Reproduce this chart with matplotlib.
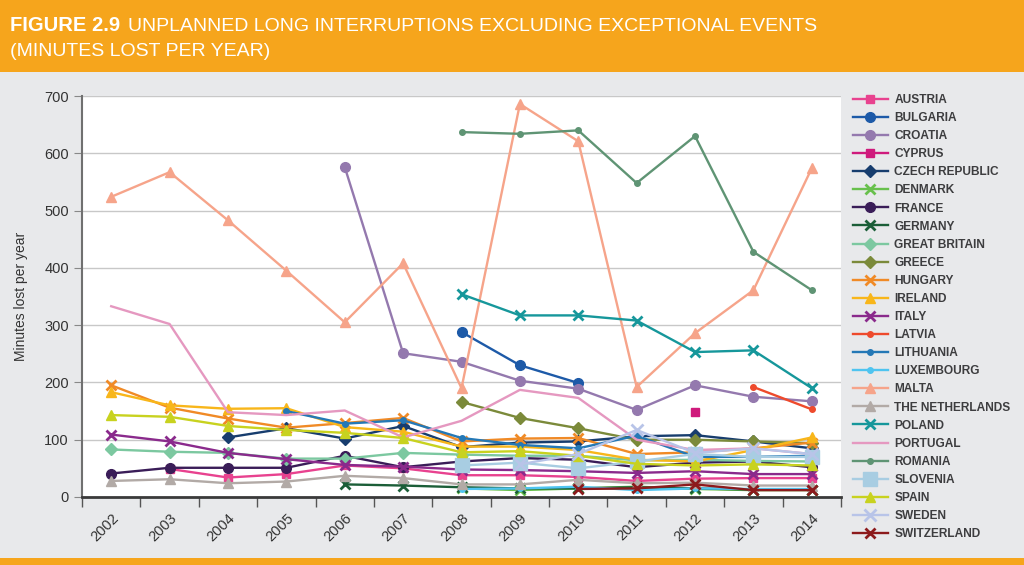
import numpy as np
import matplotlib.pyplot as plt
from matplotlib.patches import Rectangle

nan = np.nan
years = ['2002', '2003', '2004', '2005', '2006', '2007', '2008',
         '2009', '2010', '2011', '2012', '2013', '2014']

austria = [nan, 49, 34, 40, 55, 50, 38, 38, 35, 28, 32, 33, 33]
bulgaria = [nan, nan, nan, nan, nan, nan, 288, 230, 199, nan, nan, nan, nan]
croatia = [nan, nan, nan, nan, 576, 251, 236, 203, 189, 152, 195, 175, 167]
cyprus = [nan, nan, nan, nan, nan, nan, nan, nan, nan, nan, 148, nan, nan]
czech = [nan, nan, 104, 120, 102, 124, 87, 95, 97, 106, 108, 97, 85]
denmark = [nan, nan, nan, nan, nan, nan, 15, 12, 15, 18, 14, 12, 12]
france = [41, 51, 51, 51, 72, 52, 62, 68, 65, 52, 60, 62, 52]
germany = [nan, nan, nan, nan, 22, 20, 17, 15, 15, 17, 15, 13, 13]
great_britain = [83, 79, 77, 67, 67, 77, 74, 72, 72, 64, 65, 63, 62]
greece = [nan, nan, nan, nan, nan, nan, 166, 138, 120, 100, 100, 97, 94]
hungary = [195, 156, 137, 121, 129, 138, 97, 102, 103, 75, 78, 85, 95]
ireland = [183, 160, 154, 155, 122, 114, 88, 88, 82, 65, 62, 82, 104]
italy = [109, 97, 77, 66, 56, 53, 48, 47, 45, 42, 45, 40, 40]
latvia = [nan, nan, nan, nan, nan, nan, nan, nan, nan, nan, nan, 192, 153]
lithuania = [nan, nan, nan, 150, 128, 134, 103, 91, 85, 107, 70, 70, 72]
luxembourg = [nan, nan, nan, nan, nan, nan, 14, 15, 18, 12, 15, 14, 14]
malta = [524, 567, 483, 395, 305, 408, 190, 686, 621, 192, 286, 361, 574]
netherlands = [28, 31, 24, 27, 37, 33, 22, 22, 30, 24, 25, 20, 20]
poland = [nan, nan, nan, nan, nan, nan, 354, 317, 317, 308, 253, 256, 190]
portugal = [333, 302, 148, 143, 151, 104, 133, 187, 173, 100, 82, 85, 75]
romania = [nan, nan, nan, nan, nan, nan, 637, 634, 640, 548, 630, 428, 361]
slovenia = [nan, nan, nan, nan, nan, nan, 55, 60, 50, 62, 75, 70, 70]
spain = [143, 140, 124, 117, 112, 103, 78, 80, 72, 58, 55, 57, 55]
sweden = [nan, nan, nan, nan, nan, nan, nan, 57, 75, 117, 77, 85, 75]
switzerland = [nan, nan, nan, nan, nan, nan, nan, nan, 14, 15, 22, 12, 12]

# name, values, colour, marker, marker size
series = [
    ('AUSTRIA', austria, '#e8428f', 's', 6),
    ('BULGARIA', bulgaria, '#1d5aa8', 'o', 7),
    ('CROATIA', croatia, '#9479ae', 'o', 7),
    ('CYPRUS', cyprus, '#cf1a7c', 's', 6),
    ('CZECH REPUBLIC', czech, '#173d6e', 'D', 6),
    ('DENMARK', denmark, '#68c04c', 'x', 7),
    ('FRANCE', france, '#3a1d58', 'o', 7),
    ('GERMANY', germany, '#1b5e38', 'x', 7),
    ('GREAT BRITAIN', great_britain, '#7cc8a0', 'D', 6),
    ('GREECE', greece, '#7b8a3a', 'D', 6),
    ('HUNGARY', hungary, '#f08a26', 'x', 7),
    ('IRELAND', ireland, '#f8b61a', '^', 7),
    ('ITALY', italy, '#8a2a8c', 'x', 7),
    ('LATVIA', latvia, '#ee4a2c', 'o', 4),
    ('LITHUANIA', lithuania, '#2478b6', 'o', 4),
    ('LUXEMBOURG', luxembourg, '#4fc4f0', 'o', 4),
    ('MALTA', malta, '#f6a48a', '^', 7),
    ('THE NETHERLANDS', netherlands, '#b2aaa6', '^', 7),
    ('POLAND', poland, '#16979b', 'x', 7),
    ('PORTUGAL', portugal, '#e598c0', None, 0),
    ('ROMANIA', romania, '#5f9474', 'o', 4),
    ('SLOVENIA', slovenia, '#a8cde2', 's', 10),
    ('SPAIN', spain, '#c8d21f', '^', 7),
    ('SWEDEN', sweden, '#b8c4e8', 'x', 8),
    ('SWITZERLAND', switzerland, '#8c1a1c', 'x', 7),
]

orange = '#f6a51c'
bg = '#e8e9eb'
font = ['Liberation Sans', 'DejaVu Sans']

fig = plt.figure(figsize=(10.24, 5.65), dpi=100, facecolor=bg)
fig.patches.append(Rectangle((0, 1 - 72 / 565), 1, 72 / 565, transform=fig.transFigure,
                             facecolor=orange, edgecolor='none', zorder=0))
fig.patches.append(Rectangle((0, 0), 1, 7 / 565, transform=fig.transFigure,
                             facecolor=orange, edgecolor='none', zorder=0))

t1 = fig.text(10 / 1024, 1 - 31 / 565, 'FIGURE 2.9', color='white', fontsize=14.5,
              fontweight='bold', family=font, va='baseline')
fig.canvas.draw()
x_end = t1.get_window_extent().x1
fig.text((x_end + 8) / 1024, 1 - 31 / 565,
         'UNPLANNED LONG INTERRUPTIONS EXCLUDING EXCEPTIONAL EVENTS',
         color='white', fontsize=14, family=font, va='baseline')
fig.text(10 / 1024, 1 - 56 / 565, '(MINUTES LOST PER YEAR)', color='white', fontsize=14,
         family=font, va='baseline')

ax = fig.add_axes([82 / 1024, 1 - 497 / 565, 759 / 1024, 401 / 565])
ax.set_facecolor('white')
x = np.arange(len(years))

handles = []
for name, vals, col, mk, ms in series:
    mew = 2 if mk == 'x' else 1
    h, = ax.plot(x, vals, color=col, lw=1.7, marker=mk, ms=ms, mew=mew,
                 label=name, zorder=3)
    handles.append(h)

ax.set_xlim(-0.5, len(years) - 0.5)
ax.set_ylim(0, 700)
ax.set_yticks(range(0, 701, 100))
ax.grid(axis='y', color='#c8c8c8', lw=1)
ax.set_axisbelow(True)
for s in ['top', 'right']:
    ax.spines[s].set_visible(False)
ax.spines['left'].set_color('#707070')
ax.spines['left'].set_linewidth(1.5)
ax.spines['bottom'].set_color('#3a3a3a')
ax.spines['bottom'].set_linewidth(2)

ax.set_xticks(x)
ax.set_xticklabels(years, rotation=45, ha='right', va='top', rotation_mode='anchor',
                   fontsize=10.5, color='#333333', family=font)
ax.tick_params(axis='x', which='major', length=0, pad=10)
ax.set_xticks(np.arange(-0.5, len(years)), minor=True)
ax.tick_params(axis='x', which='minor', length=7, width=1, color='#555555')
ax.tick_params(axis='y', length=6, color='#888888', labelsize=10.5, labelcolor='#333333')
for lab in ax.get_yticklabels():
    lab.set_family(font)
ax.set_ylabel('Minutes lost per year', fontsize=10, color='#333333', labelpad=12,
              family=font)

fig.legend(handles=handles, loc='upper left', bbox_to_anchor=(853 / 1024, 1 - 94 / 565),
           frameon=False, handlelength=2.9, handletextpad=0.55, labelspacing=0.51,
           prop={'family': font, 'weight': 'bold', 'size': 8.6}, labelcolor='#3d3d3f',
           borderaxespad=0, borderpad=0)

fig.savefig('out.png', dpi=100, facecolor=bg)
